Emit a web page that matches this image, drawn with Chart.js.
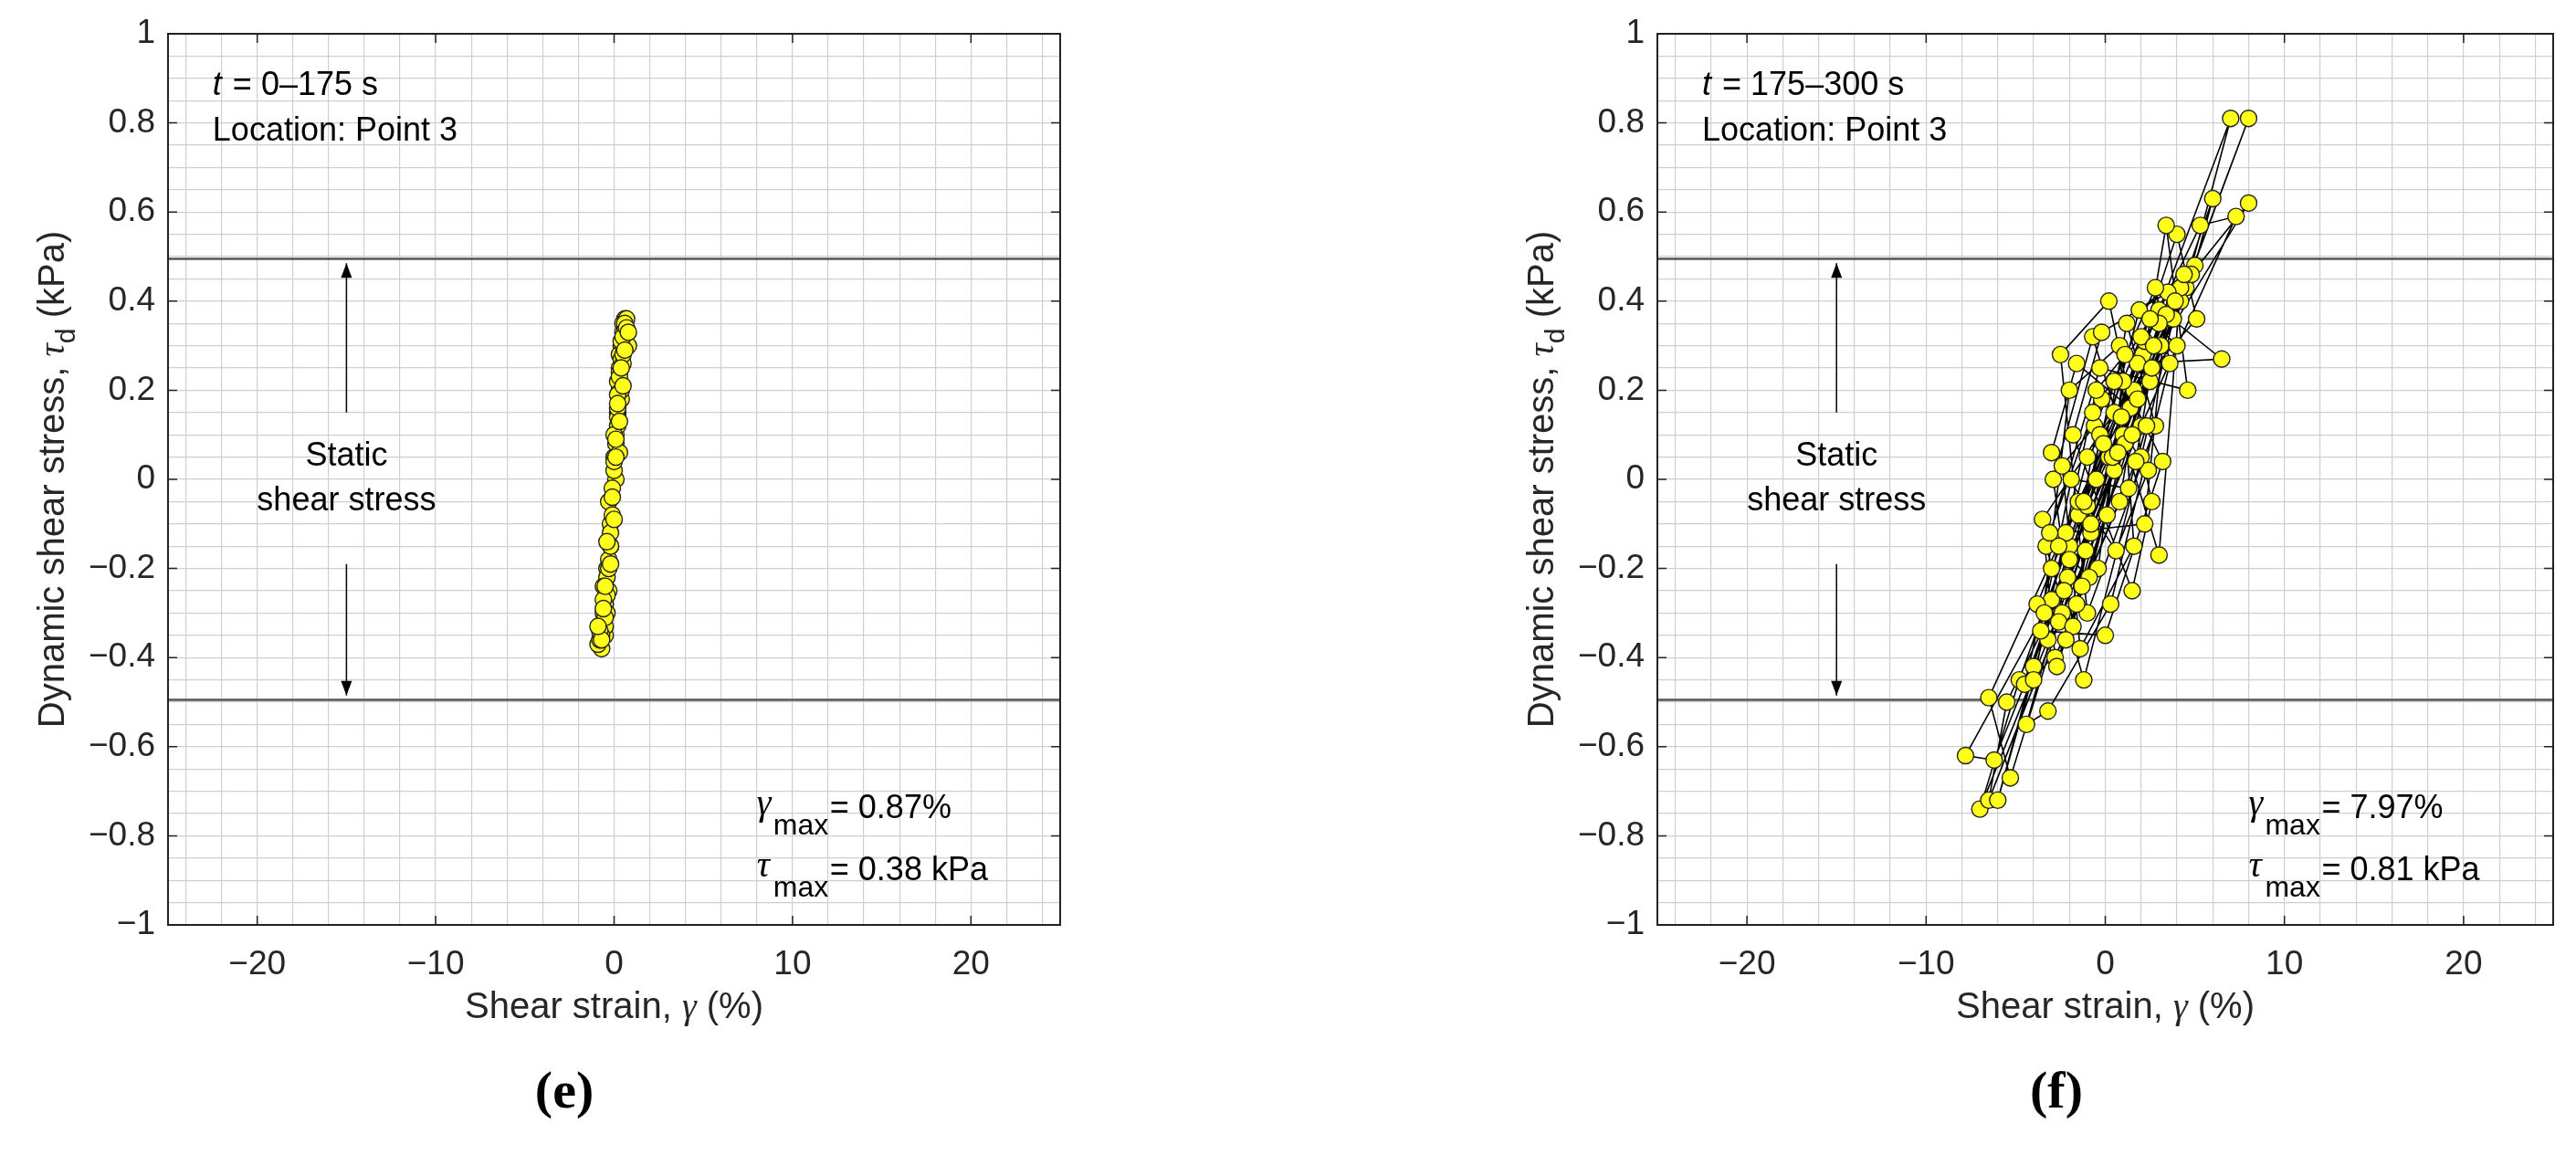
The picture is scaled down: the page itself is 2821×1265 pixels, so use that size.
<!DOCTYPE html>
<html>
<head>
<meta charset="utf-8">
<script src="https://cdn.jsdelivr.net/npm/chart.js@4.4.1/dist/chart.umd.min.js"></script>
<style>
  body { margin: 0; background: #fff; width: 2821px; height: 1265px; position: relative; overflow: hidden; }
  canvas { position: absolute; top: 0; }
  .tag { position: absolute; top: 1160px; font: bold 58px "Liberation Serif", serif; color: #000; transform: translateX(-50%); }
</style>
</head>
<body>
<canvas id="left" width="1210" height="1265" style="left:0"></canvas>
<canvas id="right" width="1214" height="1265" style="left:1631px"></canvas>
<div class="tag" style="left:618px">(<span>e</span>)</div>
<div class="tag" style="left:2252px">(<span>f</span>)</div>
<script>
// tick labels
const xTickLabels = [-20, -10, 0, 10, 20];
const yTickLabels = [-1, -0.8, -0.6, -0.4, -0.2, 0, 0.2, 0.4, 0.6, 0.8, 1];
const staticLevel = 0.495;

// panel (e): t = 0-175 s
const strainE = [0.1,-0.3,0.4,0.2,-0.5,0.3,0.6,0.0,-0.6,-0.2,0.5,0.3,-0.4,-0.7,0.1,0.5,0.2,-0.5,-0.9,-0.3,
  0.3,0.6,0.4,-0.2,-0.6,0.0,0.7,0.5,-0.1,-0.8,-0.4,0.2,0.4,0.1,-0.3,-0.5,0.2,0.6,0.3,-0.4,
  -0.7,-0.1,0.4,0.8,0.3,-0.2,-0.6,0.0,0.5,0.2,
  -0.4,0.1,0.5,0.0,-0.6,-0.2,0.4,0.6,-0.3,-0.8,0.2,0.5,-0.1,-0.5,0.3,0.7,0.0,-0.7,-0.4,0.4,
  0.6,-0.2,-0.9,0.1,0.5,0.3,-0.5,-0.6,0.2,0.8];
const stressE = [0.0,-0.25,0.30,0.15,-0.35,0.20,0.36,0.05,-0.32,-0.10,0.33,0.25,-0.20,-0.38,0.10,0.35,0.22,-0.28,-0.37,-0.05,
  0.28,0.34,0.18,-0.15,-0.30,0.02,0.36,0.30,-0.08,-0.36,-0.22,0.12,0.27,0.08,-0.18,-0.33,0.14,0.32,0.24,-0.26,
  -0.35,-0.02,0.20,0.30,0.06,-0.12,-0.24,0.04,0.26,0.16,
  -0.30,0.05,0.28,0.10,-0.27,-0.15,0.31,0.35,-0.20,-0.34,0.19,0.32,-0.04,-0.31,0.23,0.34,-0.09,-0.36,-0.14,0.25,
  0.29,-0.19,-0.33,0.09,0.21,0.13,-0.24,-0.29,0.17,0.33];

// panel (f): t = 175-300 s
const strainF = [0.2,2.1,4.5,7.0,3.0,-1.5,-4.8,-7.0,-3.2,0.5,3.8,8.0,4.2,-0.8,-5.5,-6.5,-2.4,1.6,5.0,6.0,
  2.5,-2.1,-6.2,-7.8,-3.0,1.0,4.8,8.0,3.1,-1.0,-4.0,-6.0,-2.0,2.2,5.3,7.3,2.0,-2.6,-5.3,-6.5,
  -1.5,3.4,6.5,1.8,-3.0,-4.5,-0.5,4.0,5.1,0.5,-3.5,-2.8,0.8,3.4,4.6,-0.3,-3.3,-1.2,2.0,4.2,
  3.0,-0.7,-2.9,-1.8,1.2,2.8,-1.0,-2.5,0.2,2.6,1.5,-1.8,-0.2,3.5,2.2,-2.2,-3.8,-0.4,1.0,3.2,
  0.0,-3.6,-2.0,0.8,1.6,-1.4,-2.4,-0.6,2.8,3.6,0.3,-3.2,-4.4,-1.0,1.4,-1.6,-3.0,0.6,2.4,-0.2,
  -1.2,1.8,0.4,-2.0,2.6,1.1,-0.9,-2.6,0.9,2.0,-0.3,-1.6,1.7,3.0,-0.8,-2.3,0.5,2.3,1.3,-1.9,
  -3.4,-0.1,1.9,4.4,2.7,-1.1,-2.7,0.1,1.1,-0.5,-4.0,-2.2,0.7,3.9,1.5,-1.3,-3.1,-0.7,2.5,4.0];
const stressF = [0.05,0.28,0.43,0.81,0.38,-0.08,-0.45,-0.74,-0.36,0.02,0.36,0.81,0.40,-0.12,-0.50,-0.72,-0.30,0.20,0.48,0.63,
  0.22,-0.22,-0.63,-0.62,-0.27,0.10,0.46,0.62,0.30,0.05,-0.42,-0.72,-0.15,0.31,0.57,0.59,0.12,-0.32,-0.67,-0.49,
  -0.05,0.37,0.27,0.26,-0.20,-0.46,0.00,0.55,0.36,0.15,-0.09,-0.40,-0.05,0.57,0.20,0.25,-0.15,-0.45,0.05,0.43,
  -0.17,0.32,0.00,-0.33,0.35,0.12,-0.30,0.28,0.40,-0.05,-0.25,0.10,0.33,0.42,-0.10,-0.12,-0.28,-0.20,0.22,0.04,
  -0.35,-0.34,0.20,0.30,-0.15,-0.38,0.03,0.12,0.43,0.26,-0.28,-0.52,-0.55,-0.06,0.16,0.26,0.06,-0.16,0.02,0.18,
  -0.05,0.18,0.05,-0.18,0.25,0.08,-0.22,-0.15,0.14,0.32,0.10,-0.28,0.04,0.35,-0.10,-0.25,0.22,0.12,-0.02,0.00,
  -0.30,0.08,0.38,0.46,0.30,-0.16,-0.42,-0.08,0.28,0.20,-0.45,-0.36,0.06,0.40,0.10,-0.24,-0.12,0.15,0.36,0.30];

const FONT = '"Liberation Sans", Arial, sans-serif';
const minus = v => String(v).replace('-', '\u2212');
const near = (list, v) => list.some(t => Math.abs(t - v) < 1e-6);

function makePanel(id, xs, ys, info) {
  const gridX = [];
  for (let v = -24; v <= 24; v += 2) gridX.push(v);
  const gridY = [];
  for (let i = -20; i <= 20; i++) gridY.push(i * 0.05);

  const decor = {
    id: 'decor',
    afterDraw(chart) {
      const { ctx, chartArea: a, scales: { x, y } } = chart;
      ctx.save();
      ctx.strokeStyle = '#222';
      ctx.lineWidth = 2;
      ctx.strokeRect(a.left, a.top, a.right - a.left, a.bottom - a.top);
      // inward tick marks
      ctx.lineWidth = 1.5;
      xTickLabels.forEach(v => {
        const px = x.getPixelForValue(v);
        ctx.beginPath(); ctx.moveTo(px, a.bottom); ctx.lineTo(px, a.bottom - 10);
        ctx.moveTo(px, a.top); ctx.lineTo(px, a.top + 10); ctx.stroke();
      });
      yTickLabels.forEach(v => {
        const py = y.getPixelForValue(v);
        ctx.beginPath(); ctx.moveTo(a.left, py); ctx.lineTo(a.left + 10, py);
        ctx.moveTo(a.right, py); ctx.lineTo(a.right - 10, py); ctx.stroke();
      });
      ctx.fillStyle = '#000';
      ctx.textBaseline = 'alphabetic';
      // time and location
      const tx = x.getPixelForValue(-22.5);
      ctx.font = 'italic 36px ' + FONT;
      ctx.fillText('t', tx, y.getPixelForValue(0.863));
      ctx.font = '36px ' + FONT;
      ctx.fillText(' = ' + info.time, tx + 12, y.getPixelForValue(0.863));
      ctx.fillText('Location: Point 3', tx, y.getPixelForValue(0.76));
      // static shear stress
      const sx = x.getPixelForValue(-15);
      ctx.textAlign = 'center';
      ctx.fillText('Static', sx, y.getPixelForValue(0.03));
      ctx.fillText('shear stress', sx, y.getPixelForValue(-0.07));
      ctx.strokeStyle = '#000';
      ctx.lineWidth = 1.5;
      const arrow = (from, to) => {
        const p0 = y.getPixelForValue(from), p1 = y.getPixelForValue(to);
        const d = p1 > p0 ? 1 : -1;
        ctx.beginPath(); ctx.moveTo(sx, p0); ctx.lineTo(sx, p1); ctx.stroke();
        ctx.beginPath(); ctx.moveTo(sx, p1); ctx.lineTo(sx - 6, p1 - d * 16); ctx.lineTo(sx + 6, p1 - d * 16); ctx.closePath(); ctx.fill();
      };
      arrow(0.15, staticLevel - 0.01);
      arrow(-0.19, -staticLevel + 0.01);
      // max values
      ctx.textAlign = 'left';
      const mx = x.getPixelForValue(8);
      [['\u03b3', info.gmax, -0.76], ['\u03c4', info.tmax, -0.90]].forEach(([sym, txt, yy]) => {
        const py = y.getPixelForValue(yy);
        ctx.font = 'italic 40px "Liberation Serif", serif';
        ctx.fillText(sym, mx, py - 4);
        ctx.font = '32px ' + FONT;
        ctx.fillText('max', mx + 18, py + 18);
        ctx.font = '36px ' + FONT;
        ctx.fillText('= ' + txt, mx + 80, py);
      });
      // axis titles
      ctx.fillStyle = '#262626';
      ctx.textAlign = 'left';
      const xt1 = 'Shear strain, ', xt2 = '\u03b3', xt3 = ' (%)';
      ctx.font = '40px ' + FONT; const w1 = ctx.measureText(xt1).width, w3 = ctx.measureText(xt3).width;
      ctx.font = 'italic 40px "Liberation Serif", serif'; const w2 = ctx.measureText(xt2).width;
      const cx = (a.left + a.right) / 2 - (w1 + w2 + w3) / 2;
      ctx.font = '40px ' + FONT; ctx.fillText(xt1, cx, 1115);
      ctx.font = 'italic 40px "Liberation Serif", serif'; ctx.fillText(xt2, cx + w1, 1115);
      ctx.font = '40px ' + FONT; ctx.fillText(xt3, cx + w1 + w2, 1115);
      // y title rotated
      ctx.save();
      ctx.translate(a.left - 128, (a.top + a.bottom) / 2);
      ctx.rotate(-Math.PI / 2);
      const p1 = 'Dynamic shear stress, ', p2 = '\u03c4', p3 = 'd', p4 = ' (kPa)';
      ctx.font = '40px ' + FONT; const q1 = ctx.measureText(p1).width, q4 = ctx.measureText(p4).width;
      ctx.font = 'italic 40px "Liberation Serif", serif'; const q2 = ctx.measureText(p2).width;
      ctx.font = '30px ' + FONT; const q3 = ctx.measureText(p3).width;
      let ox = -(q1 + q2 + q3 + q4) / 2;
      ctx.font = '40px ' + FONT; ctx.fillText(p1, ox, 14); ox += q1;
      ctx.font = 'italic 40px "Liberation Serif", serif'; ctx.fillText(p2, ox, 14); ox += q2;
      ctx.font = '30px ' + FONT; ctx.fillText(p3, ox, 26); ox += q3;
      ctx.font = '40px ' + FONT; ctx.fillText(p4, ox, 14);
      ctx.restore();
      ctx.restore();
    }
  };

  new Chart(document.getElementById(id), {
    type: 'scatter',
    data: {
      datasets: [
        {
          data: xs.map((v, i) => ({ x: v, y: ys[i] })),
          showLine: true,
          borderColor: '#000',
          borderWidth: 1.6,
          pointBackgroundColor: '#ffff1a',
          pointBorderColor: '#222',
          pointBorderWidth: 1.4,
          pointRadius: 9,
          order: 1
        },
        {
          data: [{ x: -25, y: staticLevel }, { x: 25, y: staticLevel }],
          showLine: true, borderColor: '#555', borderWidth: 2.5, pointRadius: 0, order: 2
        },
        {
          data: [{ x: -25, y: -staticLevel }, { x: 25, y: -staticLevel }],
          showLine: true, borderColor: '#555', borderWidth: 2.5, pointRadius: 0, order: 2
        }
      ]
    },
    options: {
      responsive: false,
      animation: false,
      devicePixelRatio: 1,
      layout: { padding: { top: 37, right: 49, left: 0, bottom: 0 } },
      plugins: { legend: { display: false }, tooltip: { enabled: false } },
      scales: {
        x: {
          type: 'linear', min: -25, max: 25,
          afterBuildTicks: s => { s.ticks = gridX.map(v => ({ value: v })); },
          afterFit: s => { s.height = 252; },
          grid: { color: '#cfcfcf', lineWidth: 1.2, drawTicks: false },
          border: { display: false },
          ticks: {
            autoSkip: false, maxRotation: 0, padding: 22, color: '#262626',
            font: { family: FONT, size: 37 },
            callback: v => near(xTickLabels, v) ? minus(v) : ''
          }
        },
        y: {
          type: 'linear', min: -1, max: 1,
          afterBuildTicks: s => { s.ticks = gridY.map(v => ({ value: v })); },
          afterFit: s => { s.width = 184; },
          grid: { color: '#cfcfcf', lineWidth: 1.2, drawTicks: false },
          border: { display: false },
          ticks: {
            autoSkip: false, padding: 14, color: '#262626',
            font: { family: FONT, size: 37 },
            callback: v => {
              const t = yTickLabels.find(k => Math.abs(k - v) < 1e-6);
              return t === undefined ? '' : minus(t);
            }
          }
        }
      }
    },
    plugins: [decor]
  });
}

makePanel('left', strainE, stressE, { time: '0\u2013175 s', gmax: '0.87%', tmax: '0.38 kPa' });
makePanel('right', strainF, stressF, { time: '175\u2013300 s', gmax: '7.97%', tmax: '0.81 kPa' });
</script>
</body>
</html>
